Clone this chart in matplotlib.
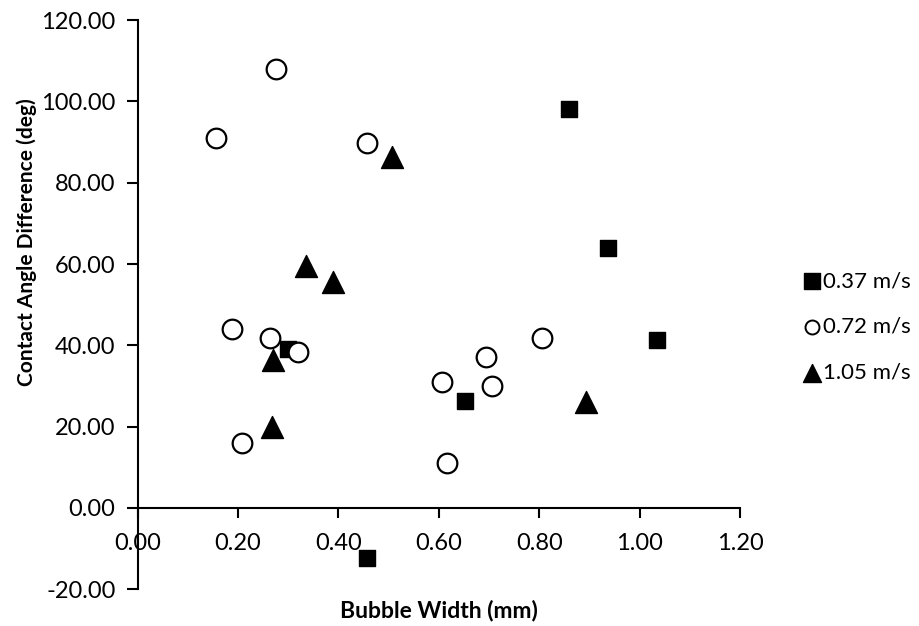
import numpy as np
import matplotlib
matplotlib.use("Agg")
import matplotlib.pyplot as plt
from matplotlib.ticker import FormatStrFormatter

plt.rcParams['font.family'] = ['Lato', 'DejaVu Sans']

# 0.37 m/s
x1 = [0.859, 0.938, 0.300, 0.653, 0.457, 1.034]
y1 = [98.0, 64.0, 39.1, 26.4, -12.3, 41.2]
# 0.72 m/s
x2 = [0.276, 0.157, 0.457, 0.187, 0.264, 0.320, 0.208, 0.607, 0.693, 0.706, 0.617, 0.805]
y2 = [108.0, 91.0, 89.8, 44.0, 41.8, 38.4, 16.1, 30.9, 37.1, 30.1, 11.1, 41.8]
# 1.05 m/s
x3 = [0.506, 0.336, 0.390, 0.269, 0.268, 0.894]
y3 = [86.4, 59.4, 55.5, 36.4, 20.0, 26.0]

labels = ['0.37 m/s', '0.72 m/s', '1.05 m/s']

fig = plt.figure(figsize=(9.19, 6.26), dpi=100)
ax = fig.add_axes([0.1498, 0.0586, 0.6554, 0.9094])

ax.scatter(x1, y1, marker='s', s=120, c='black', label=labels[0], zorder=3)
ax.scatter(x2, y2, marker='o', s=200, facecolors='white', edgecolors='black',
           linewidths=1.6, label=labels[1], zorder=3)
ax.scatter(x3, y3, marker='^', s=250, c='black', label=labels[2], zorder=3)

ax.set_xlim(0, 1.2)
ax.set_ylim(-20, 120)
ax.set_xticks(np.arange(0, 1.21, 0.2))
ax.set_yticks(np.arange(-20, 121, 20))
ax.xaxis.set_major_formatter(FormatStrFormatter('%.2f'))
ax.yaxis.set_major_formatter(FormatStrFormatter('%.2f'))

ax.spines['top'].set_visible(False)
ax.spines['right'].set_visible(False)
ax.spines['bottom'].set_position(('data', 0))
ax.spines['left'].set_linewidth(1.5)
ax.spines['bottom'].set_linewidth(1.5)
ax.tick_params(axis='y', direction='out', length=8, width=1.5, labelsize=17, pad=8)
ax.tick_params(axis='x', direction='out', length=7, width=1.5, labelsize=17, pad=11)

ax.set_xlabel('Bubble Width (mm)', fontsize=16.5, fontweight='bold')
ax.xaxis.set_label_coords(0.5, -0.018)
ax.set_ylabel('Contact Angle Difference (deg)', fontsize=15, fontweight='bold')
ax.yaxis.set_label_coords(-0.167, 0.61)

leg = ax.legend(loc='center left', bbox_to_anchor=(1.09, 0.461), frameon=False,
                fontsize=16, handletextpad=0.1, handlelength=0.8,
                labelspacing=1.15, borderaxespad=0)
for h, size in zip(leg.legend_handles, [133, 101, 168]):
    h.set_sizes([size])
leg.legend_handles[1].set_linewidth(1.4)

fig.savefig('out.png', dpi=100)
